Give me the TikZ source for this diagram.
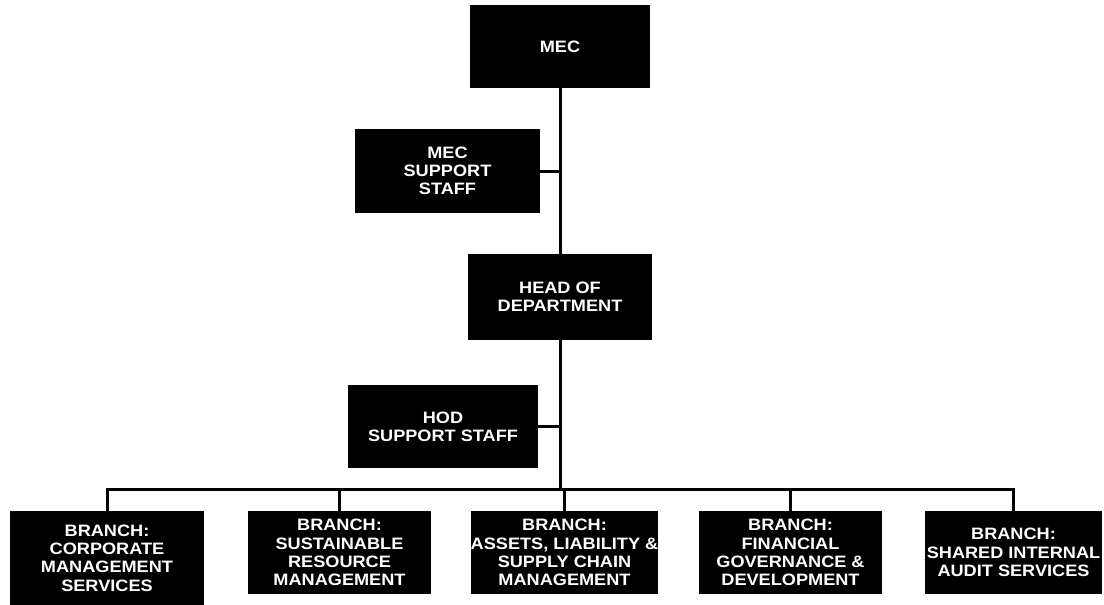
\documentclass[tikz,border=0pt]{standalone}
\usepackage{fontspec}
\setmainfont{Liberation Sans}[FakeStretch=1.1]
\begin{document}
\begin{tikzpicture}[x=1pt, y=-1pt,
    unitbox/.style={fill=black, text=white, inner sep=0pt, align=center,
      font=\fontsize{16.5}{18.3}\selectfont\bfseries},
    link/.style={line width=3pt}]

  \useasboundingbox (0,0) rectangle (1104,605);

  %Top of the department
  \node [unitbox, minimum width=180pt, minimum height=83pt] (mec)
    at (560,46.5) {MEC};
  \node [unitbox, minimum width=185pt, minimum height=84pt] (mecstaff)
    at (447.5,171) {MEC\\SUPPORT\\STAFF};
  \node [unitbox, minimum width=184pt, minimum height=86pt] (hod)
    at (560,297) {HEAD OF\\DEPARTMENT};
  \node [unitbox, minimum width=190pt, minimum height=83pt] (hodstaff)
    at (443,426.5) {HOD\\SUPPORT STAFF};

  %Branches
  \node [unitbox, minimum width=194pt, minimum height=94pt] (br1)
    at (107,558) {BRANCH:\\CORPORATE\\MANAGEMENT\\SERVICES};
  \node [unitbox, minimum width=183pt, minimum height=83pt] (br2)
    at (339.5,552.5) {BRANCH:\\SUSTAINABLE\\RESOURCE\\MANAGEMENT};
  \node [unitbox, minimum width=183pt, minimum height=83pt] (br3)
    at (564.5,552.5) {BRANCH:\\ASSETS, LIABILITY \&\\SUPPLY CHAIN\\MANAGEMENT};
  \node [unitbox, minimum width=183pt, minimum height=83pt] (br4)
    at (790.5,552.5) {BRANCH:\\FINANCIAL\\GOVERNANCE \&\\DEVELOPMENT};
  \node [unitbox, minimum width=177pt, minimum height=83pt] (br5)
    at (1013.5,552.5) {BRANCH:\\SHARED INTERNAL\\AUDIT SERVICES};

  %Lines
  \coordinate (bus) at (560,489);
  \draw [link] (mec.south) -- (hod.north);
  \draw [link] (mecstaff.east) -- (mecstaff.east -| mec.south);
  \draw [link] (hod.south) -- (bus);
  \draw [link] (hodstaff.east) -- (hodstaff.east -| hod.south);
  \draw [link] (br1.north) -- (br1.north |- bus) -- (br5.north |- bus) -- (br5.north);
  \foreach \b in {br2,br3,br4}
    \draw [link] (\b.north) -- (\b.north |- bus);

\end{tikzpicture}
\end{document}
